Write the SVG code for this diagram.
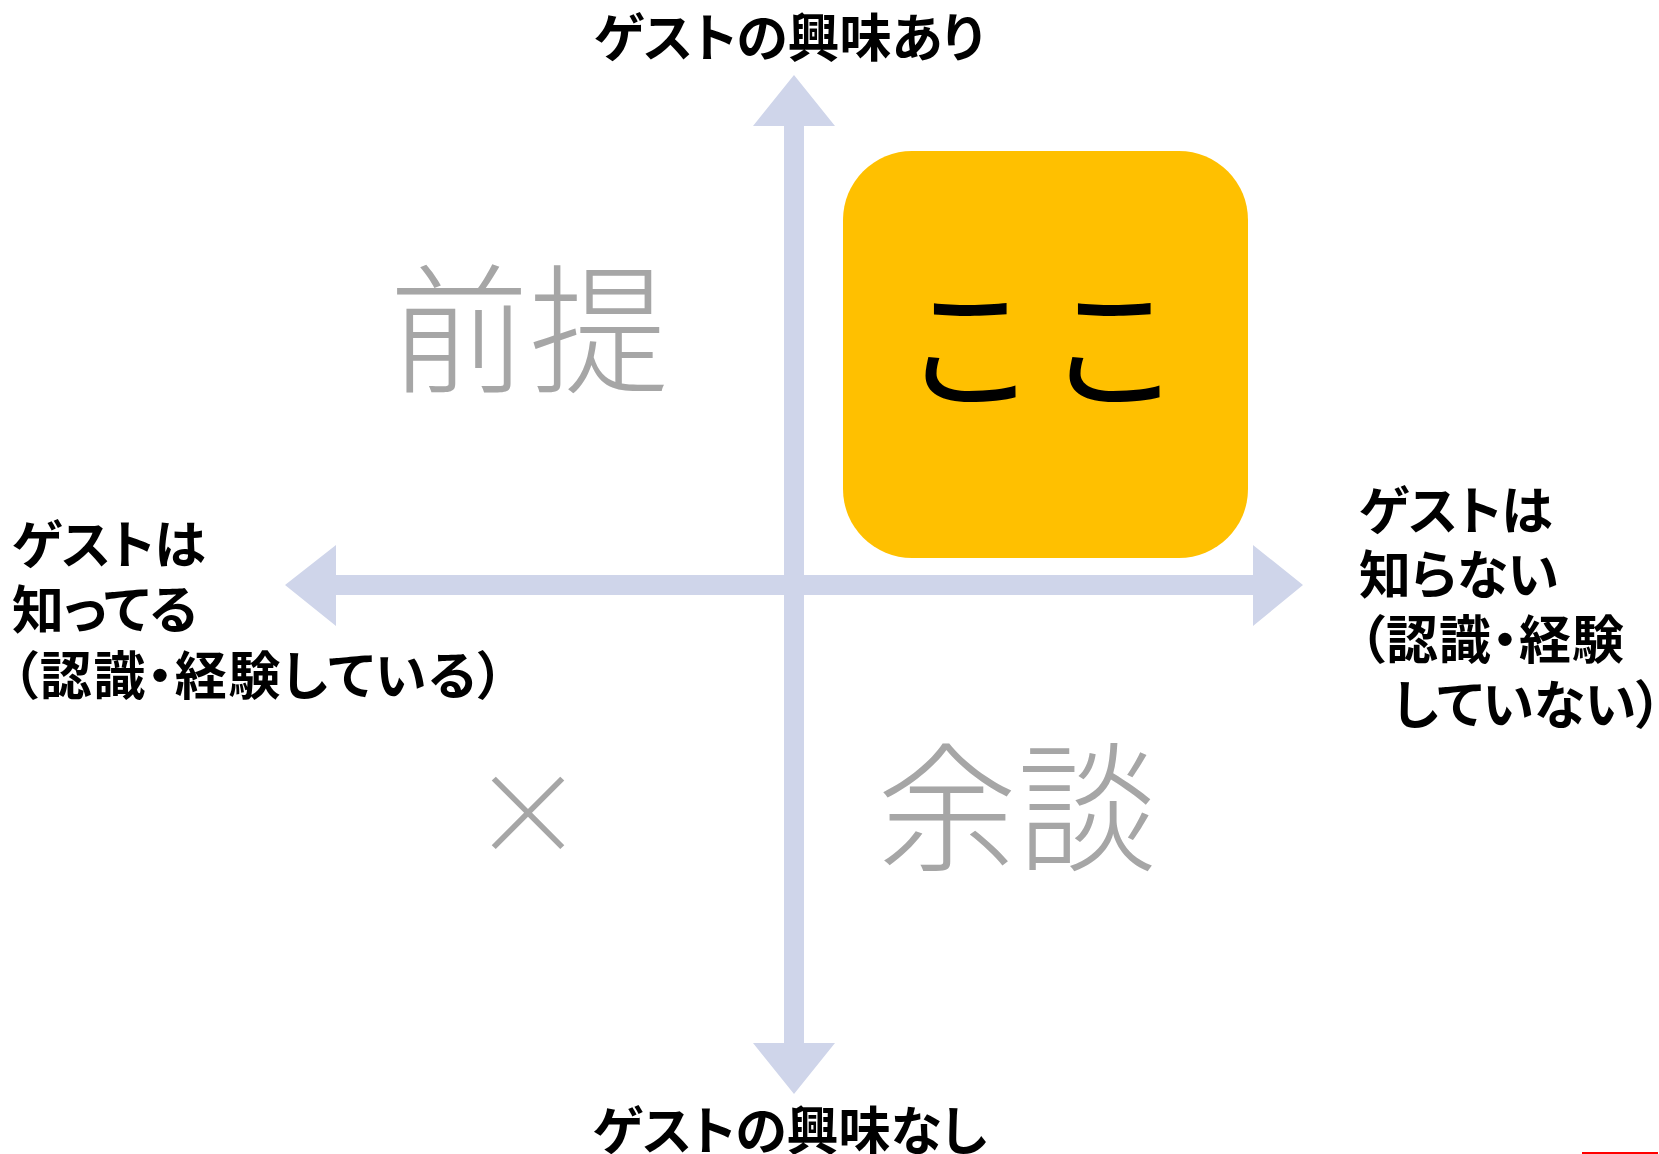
<svg xmlns="http://www.w3.org/2000/svg" width="1659" height="1154" viewBox="0 0 1659 1154">
  <style>
    .lbl { font-family: "Noto Sans CJK JP", "Noto Sans CJK SC", sans-serif; font-weight: 700; font-size: 52px; fill: #000; font-feature-settings: "palt"; }
    .big { font-family: "Noto Sans CJK JP", "Noto Sans CJK SC", sans-serif; font-weight: 300; font-size: 140px; fill: #A6A6A6; text-anchor: middle; }
    .koko { font-family: "Noto Sans CJK JP", "Noto Sans CJK SC", sans-serif; font-weight: 400; font-size: 136px; fill: #000; text-anchor: middle; }
    .axis { fill: #CFD5EA; }
  </style>
  <rect width="1659" height="1154" fill="#FFFFFF"/>
  <g id="connectors">
    <polygon class="axis" points="285,585 336,545 336,575 1253,575 1253,545 1303,585 1253,626 1253,595 336,595 336,626"/>
    <polygon class="axis" points="794,75 835,126 804,126 804,1043 835,1043 794,1094 753,1043 784,1043 784,126 753,126"/>
  </g>
  <g id="node-koko">
    <rect x="843" y="151" width="405" height="407" rx="69" ry="69" fill="#FFC000"/>
    <text class="koko" x="1046" y="399" letter-spacing="8">ここ</text>
  </g>
  <g id="node-zentei">
    <text class="big" x="529" y="382">前提</text>
  </g>
  <g id="node-yodan">
    <text class="big" x="1017" y="860">余談</text>
  </g>
  <g id="node-batsu">
    <text class="big" x="528" y="855" style="font-size:114px">×</text>
  </g>
  <g id="label-top">
    <text class="lbl" x="789" y="57" text-anchor="middle">ゲストの興味あり</text>
  </g>
  <g id="label-bottom">
    <text class="lbl" x="790" y="1150" text-anchor="middle">ゲストの興味なし</text>
  </g>
  <g id="label-left">
    <text class="lbl" x="12" y="564">ゲストは</text>
    <text class="lbl" x="12" y="629">知ってる</text>
    <text class="lbl" x="12" y="695" letter-spacing="1.7">（認識・経験している）</text>
  </g>
  <g id="label-right">
    <text class="lbl" x="1359" y="530">ゲストは</text>
    <text class="lbl" x="1359" y="594">知らない</text>
    <text class="lbl" x="1359" y="659" letter-spacing="1">（認識・経験</text>
    <text class="lbl" x="1393" y="724">していない）</text>
  </g>
  <rect x="1582" y="1152" width="76" height="2" fill="#FF0000"/>
</svg>
